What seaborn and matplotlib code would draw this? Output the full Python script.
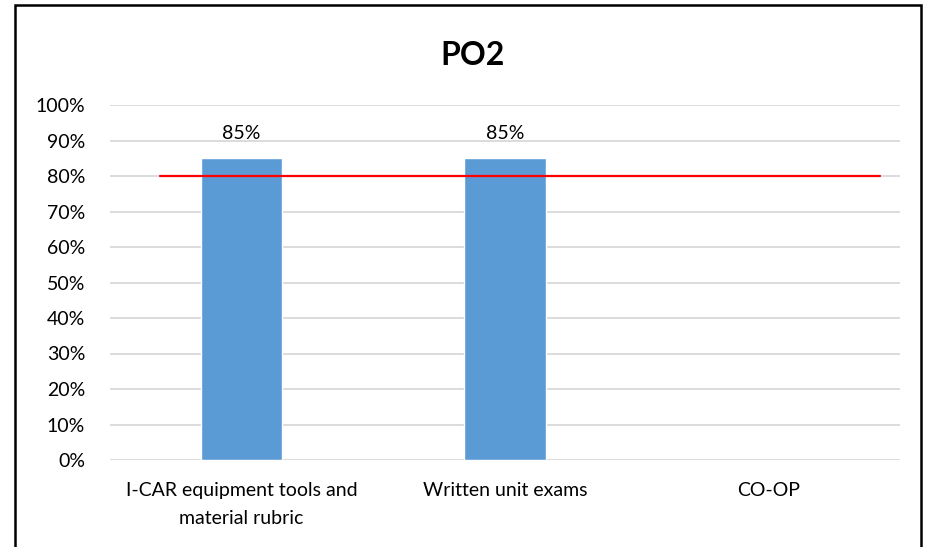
import numpy as np
import pandas as pd
import matplotlib
matplotlib.use("Agg")
import matplotlib.pyplot as plt
import seaborn as sns
from matplotlib.patches import Rectangle
from matplotlib.ticker import PercentFormatter

categories = ["I-CAR equipment tools and\nmaterial rubric", "Written unit exams", "CO-OP"]
values = [0.85, 0.85, np.nan]
target = 0.80
title = "PO2"
yticks = [0, 0.1, 0.2, 0.3, 0.4, 0.5, 0.6, 0.7, 0.8, 0.9, 1.0]

sns.set_theme(style="white")
plt.rcParams['font.family'] = ['Lato', 'DejaVu Sans']
plt.rcParams['text.color'] = 'black'

df = pd.DataFrame({"category": categories, "value": values})

fig = plt.figure(figsize=(9.27, 5.47), dpi=100)
ax = fig.add_axes([110/927, 1-460/547, 790/927, 355/547])

sns.barplot(data=df, x="category", y="value", order=categories, color="#5B9BD5",
            width=0.31, saturation=1, ax=ax, zorder=3)

ax.set_ylim(0, 1.0)
ax.set_xlim(-0.5, 2.5)
ax.set_yticks(yticks)
ax.yaxis.set_major_formatter(PercentFormatter(1.0, decimals=0))
ax.grid(axis="y", color="#D9D9D9", linewidth=1.3, zorder=0)
ax.set_axisbelow(True)
for s in ax.spines.values():
    s.set_visible(False)
ax.tick_params(axis="both", length=0, labelsize=14, colors="#000000")
ax.tick_params(axis="y", pad=18)
ax.tick_params(axis="x", pad=16)
for lbl in ax.get_xticklabels():
    lbl.set_linespacing(1.75)
ax.set_xlabel("")
ax.set_ylabel("")

# data labels
for i, v in enumerate(values):
    if not np.isnan(v):
        ax.text(i, v + 0.045, f"{v*100:.0f}%", ha="center", va="bottom", fontsize=14, color="#000000")

# target line
ax.plot([-0.31, 2.425], [target, target], color="#FF0000", linewidth=1.6, zorder=4)

fig.text(473/927, 1-55/547, title, ha="center", va="center", fontsize=23, fontweight="bold", color="black")

# chart border
fig.patches.append(Rectangle((15/927, -0.05), (921-15)/927, 1.05 - 5/547, transform=fig.transFigure,
                             fill=False, edgecolor="black", linewidth=1.8))

fig.savefig("out.png", dpi=100)
